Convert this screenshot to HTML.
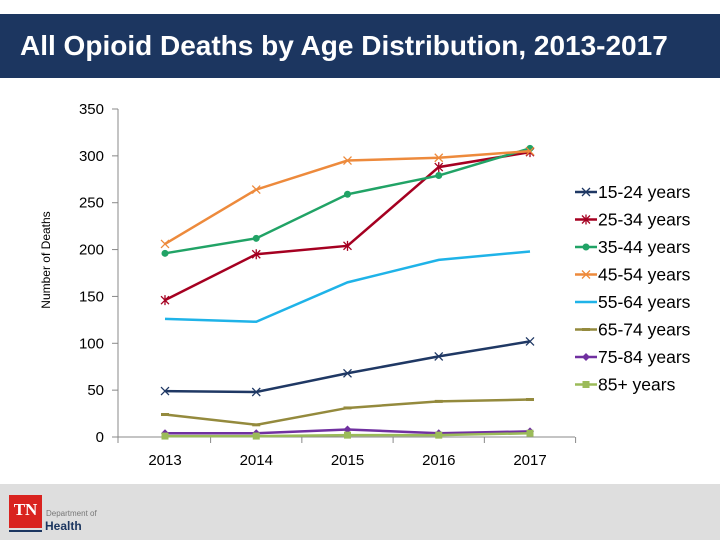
<!DOCTYPE html>
<html><head><meta charset="utf-8"><style>
body{margin:0;width:720px;height:540px;background:#fff;overflow:hidden;font-family:"Liberation Sans",sans-serif;position:relative}
#hdr{position:absolute;left:0;top:14px;width:720px;height:64px;background:#1c3660;color:#fff;font-weight:bold;font-size:28px;line-height:64px;padding-left:20px;box-sizing:border-box}
#ftr{position:absolute;left:0;top:484px;width:720px;height:56px;background:#dedede}
svg{position:absolute;left:0;top:0}
</style></head><body>
<div id="hdr">All Opioid Deaths by Age Distribution, 2013-2017</div>
<div id="ftr">
<div style="position:absolute;left:9px;top:11px;width:33px;height:33px;background:#d9231f;color:#fff;font-family:'Liberation Serif',serif;font-weight:bold;font-size:17px;line-height:30px;text-align:center">TN</div>
<div style="position:absolute;left:9px;top:46px;width:33px;height:2px;background:#1c3660"></div>
<div style="position:absolute;left:46px;top:25px;font-size:8px;color:#777">Department of</div>
<div style="position:absolute;left:45px;top:35px;font-size:12px;font-weight:bold;color:#1c3660">Health</div>
</div>
<svg id="chart" width="720" height="540"></svg>
<script>
const years=["2013","2014","2015","2016","2017"];
const yTicks=[0,50,100,150,200,250,300,350];
const names=["15-24 years","25-34 years","35-44 years","45-54 years","55-64 years","65-74 years","75-84 years","85+ years"];
const s1524=[49,48,68,86,102];
const s2534=[146,195,204,288,304];
const s3544=[196,212,259,279,308];
const s4554=[206,264,295,298,305];
const s5564=[126,123,165,189,198];
const s6574=[24,13,31,38,40];
const s7584=[4,4,8,4,6];
const s85=[1,1,2,2,4];
const series=[s1524,s2534,s3544,s4554,s5564,s6574,s7584,s85];
const colors=["#1f3864","#a50021","#21a366","#ed8a3c","#1fb3e8","#948a3d","#7030a0","#9bbb59"];
const markers=["x","star","circle","x","none","dash","diamond","square"];
const NS="http://www.w3.org/2000/svg";
const svg=document.getElementById('chart');
const X=i=>165+i*91.25, Y=v=>437-v*328/350;
function el(t,a,p){const e=document.createElementNS(NS,t);for(const k in a)e.setAttribute(k,a[k]);(p||svg).appendChild(e);return e;}
const ax=el('line',{x1:118,y1:109,x2:118,y2:437,stroke:'#888'});

const xa=el('line',{x1:118,y1:437,x2:575,y2:437,stroke:'#888'});

yTicks.forEach(v=>{
 el('line',{x1:112,x2:118,y1:Y(v),y2:Y(v),stroke:'#888'});
 const t=el('text',{x:104,y:Y(v)+5,'text-anchor':'end','font-size':15,fill:'#000'});t.textContent=v;
 
});
years.forEach((y,i)=>{
 el('line',{x1:X(i)+45.6,x2:X(i)+45.6,y1:437,y2:443,stroke:'#888'});
 const t=el('text',{x:X(i),y:465,'text-anchor':'middle','font-size':15});t.textContent=y;
 
});
el('line',{x1:118,x2:118,y1:437,y2:443,stroke:'#888'});
const yt=el('text',{x:50,y:260,'text-anchor':'middle','font-size':12,transform:'rotate(-90 50 260)'});yt.textContent='Number of Deaths';

function marker(m,x,y,c,g){
 if(m==='x'){el('path',{d:`M${x-4},${y-4}L${x+4},${y+4}M${x-4},${y+4}L${x+4},${y-4}`,stroke:c,'stroke-width':1.3},g);}
 else if(m==='star'){el('path',{d:`M${x-4},${y-4}L${x+4},${y+4}M${x-4},${y+4}L${x+4},${y-4}M${x},${y-5}L${x},${y+5}`,stroke:c,'stroke-width':1.3},g);}
 else if(m==='circle')el('circle',{cx:x,cy:y,r:3.5,fill:c},g);
 else if(m==='dash')el('rect',{x:x-4,y:y-1.5,width:8,height:3,fill:c},g);
 else if(m==='diamond')el('path',{d:`M${x},${y-4}L${x+4},${y}L${x},${y+4}L${x-4},${y}Z`,fill:c},g);
 else if(m==='square')el('rect',{x:x-3.5,y:y-3.5,width:7,height:7,fill:c},g);
}
series.forEach((s,k)=>{
 const g=el('g',{});
 
 
 el('polyline',{points:s.map((v,i)=>X(i)+','+Y(v)).join(' '),fill:'none',stroke:colors[k],'stroke-width':2.5},g);
 s.forEach((v,i)=>marker(markers[k],X(i),Y(v),colors[k],g));
 const ly=192+k*27.5;
 const lg=el('g',{});
 
 el('line',{x1:575,x2:597,y1:ly,y2:ly,stroke:colors[k],'stroke-width':2.5},lg);
 marker(markers[k],586,ly,colors[k],lg);
 const t=el('text',{x:598,y:ly+6,'font-size':17.5},lg);t.textContent=names[k];
});
</script>
</body></html>
